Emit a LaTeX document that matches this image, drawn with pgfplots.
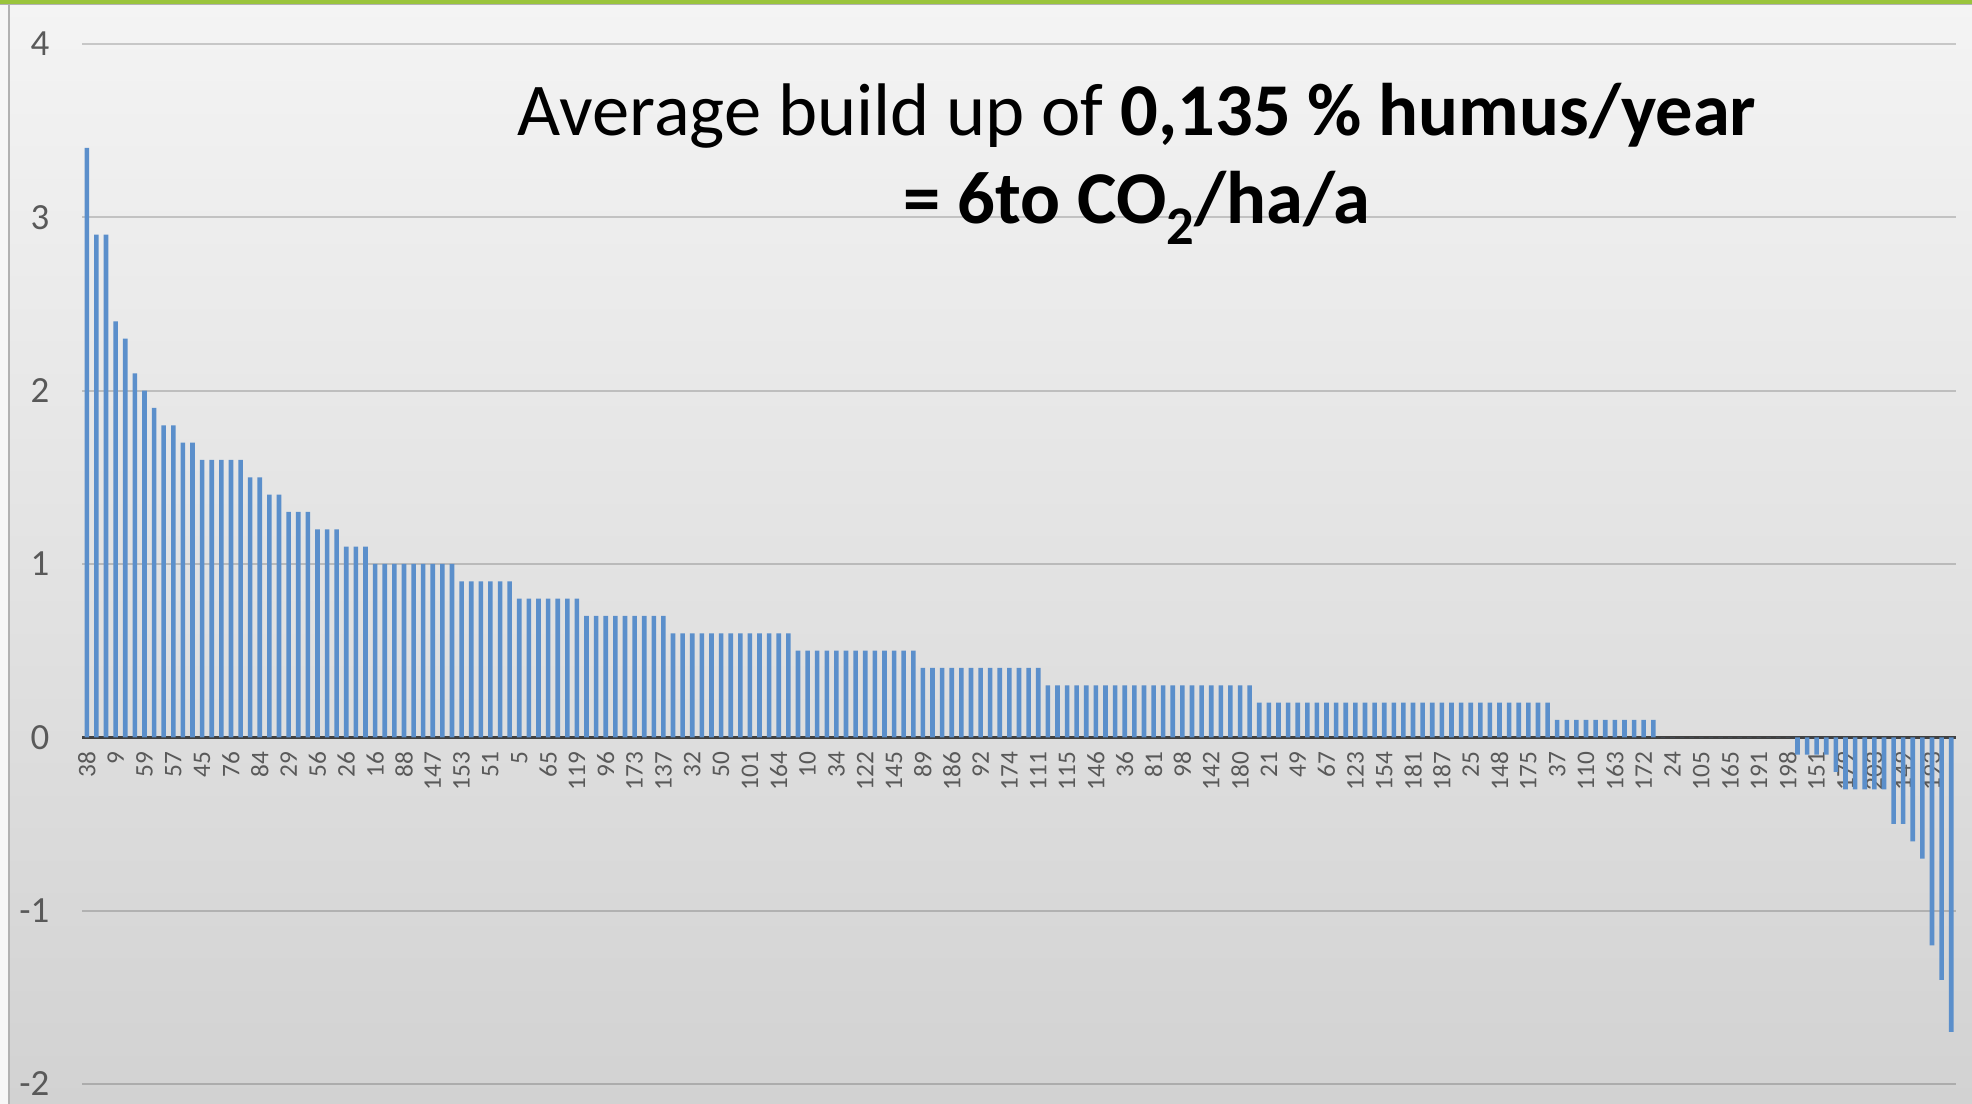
\documentclass[border=0pt]{standalone}
\usepackage{pgfplots}
\pgfplotsset{compat=1.18}
\usepackage{fontspec}
\setmainfont{Carlito}
\definecolor{barblue}{RGB}{91,143,203}
\definecolor{tickgray}{RGB}{89,89,89}
\definecolor{limegreen}{RGB}{154,196,60}
\begin{document}
\begin{tikzpicture}
\shade[top color={rgb,255:red,244;green,244;blue,244}, bottom color={rgb,255:red,210;green,210;blue,210}] (0,0) rectangle (19.72,11.04);
\fill[white!97!black] (0,0) rectangle (0.08,11.04);
\fill[black!30] (0.08,0) rectangle (0.095,11.00);
\fill[limegreen] (0,11.0) rectangle (19.72,11.04);
\fill[black!30] (0,10.99) rectangle (19.72,11.0);
\begin{axis}[
  at={(0.82cm,0.20cm)}, anchor=south west,
  scale only axis, width=18.74cm, height=10.40cm,
  xmin=0.5, xmax=195.5, ymin=-2, ymax=4,
  axis x line=middle, axis y line=left,
  axis line style={-},
  x axis line style={draw={rgb,255:red,64;green,64;blue,64}, line width=0.9pt},
  y axis line style={draw=none},
  major tick length=0pt,
  ytick={-2,-1,0,1,2,3,4},
  yticklabels={-2,-1,0,1,2,3,4},
  yticklabel style={font=\fontsize{10.5}{11}\selectfont, text=tickgray, anchor=east, inner sep=0pt, xshift=-0.32cm},
  ymajorgrids,
  major grid style={draw=black, opacity=0.18, line width=0.55pt},
  xtick={1,4,...,193},
  xticklabels={38,9,59,57,45,76,84,29,56,26,16,88,147,153,51,5,65,119,96,173,137,32,50,101,164,10,34,122,145,89,186,92,174,111,115,146,36,81,98,142,180,21,49,67,123,154,181,187,25,148,175,37,110,163,172,24,105,165,191,198,151,179,203,149,193},
  xticklabel style={font=\fontsize{7.2}{8}\selectfont, text=tickgray, yshift=-0.14cm, rotate=90, anchor=east, inner sep=0pt},
  clip=false,
]
\addplot[ybar, bar width=0.046cm, fill=barblue, draw=none] coordinates {
(1,3.4)(2,2.9)(3,2.9)(4,2.4)(5,2.3)(6,2.1)(7,2.0)(8,1.9)(9,1.8)(10,1.8)
(11,1.7)(12,1.7)(13,1.6)(14,1.6)(15,1.6)(16,1.6)(17,1.6)(18,1.5)(19,1.5)(20,1.4)
(21,1.4)(22,1.3)(23,1.3)(24,1.3)(25,1.2)(26,1.2)(27,1.2)(28,1.1)(29,1.1)(30,1.1)
(31,1.0)(32,1.0)(33,1.0)(34,1.0)(35,1.0)(36,1.0)(37,1.0)(38,1.0)(39,1.0)
(40,0.9)(41,0.9)(42,0.9)(43,0.9)(44,0.9)(45,0.9)
(46,0.8)(47,0.8)(48,0.8)(49,0.8)(50,0.8)(51,0.8)(52,0.8)
(53,0.7)(54,0.7)(55,0.7)(56,0.7)(57,0.7)(58,0.7)(59,0.7)(60,0.7)(61,0.7)
(62,0.6)(63,0.6)(64,0.6)(65,0.6)(66,0.6)(67,0.6)(68,0.6)(69,0.6)(70,0.6)(71,0.6)(72,0.6)(73,0.6)(74,0.6)
(75,0.5)(76,0.5)(77,0.5)(78,0.5)(79,0.5)(80,0.5)(81,0.5)(82,0.5)(83,0.5)(84,0.5)(85,0.5)(86,0.5)(87,0.5)
(88,0.4)(89,0.4)(90,0.4)(91,0.4)(92,0.4)(93,0.4)(94,0.4)(95,0.4)(96,0.4)(97,0.4)(98,0.4)(99,0.4)(100,0.4)
(101,0.3)(102,0.3)(103,0.3)(104,0.3)(105,0.3)(106,0.3)(107,0.3)(108,0.3)(109,0.3)(110,0.3)(111,0.3)
(112,0.3)(113,0.3)(114,0.3)(115,0.3)(116,0.3)(117,0.3)(118,0.3)(119,0.3)(120,0.3)(121,0.3)(122,0.3)
(123,0.2)(124,0.2)(125,0.2)(126,0.2)(127,0.2)(128,0.2)(129,0.2)(130,0.2)(131,0.2)(132,0.2)
(133,0.2)(134,0.2)(135,0.2)(136,0.2)(137,0.2)(138,0.2)(139,0.2)(140,0.2)(141,0.2)(142,0.2)
(143,0.2)(144,0.2)(145,0.2)(146,0.2)(147,0.2)(148,0.2)(149,0.2)(150,0.2)(151,0.2)(152,0.2)(153,0.2)
(154,0.1)(155,0.1)(156,0.1)(157,0.1)(158,0.1)(159,0.1)(160,0.1)(161,0.1)(162,0.1)(163,0.1)(164,0.1)
(165,0)(166,0)(167,0)(168,0)(169,0)(170,0)(171,0)(172,0)(173,0)(174,0)(175,0)(176,0)(177,0)(178,0)
(179,-0.1)(180,-0.1)(181,-0.1)(182,-0.1)(183,-0.2)
(184,-0.3)(185,-0.3)(186,-0.3)(187,-0.3)(188,-0.3)
(189,-0.5)(190,-0.5)(191,-0.6)(192,-0.7)(193,-1.2)(194,-1.4)(195,-1.7)
};
\end{axis}
\node[anchor=base, font=\fontsize{21.2}{25}\selectfont] at (11.37,9.68) {Average build up of \textbf{0,135 \% humus/year}};
\node[anchor=base, font=\fontsize{21.2}{25}\selectfont\bfseries] at (11.37,8.80) {= 6to CO\raisebox{-0.27em}{\fontsize{15.5}{16}\selectfont 2}/ha/a};
\pgfresetboundingbox
\path (0,0) rectangle (19.72,11.04);
\end{tikzpicture}
\end{document}
